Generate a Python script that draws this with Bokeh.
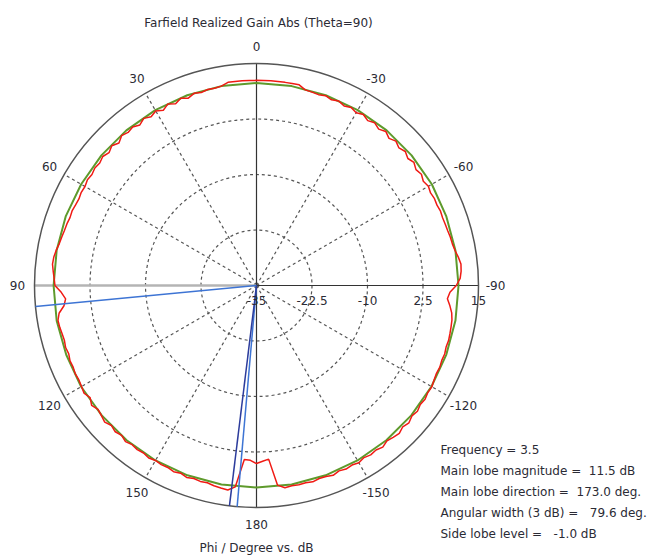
import numpy as np
from bokeh.plotting import figure
from bokeh.models import Range1d
from bokeh.core.properties import value
from bokeh.embed import file_html
from bokeh.resources import INLINE

# ---------------- data ----------------
title_text = "Farfield Realized Gain Abs (Theta=90)"
axis_text = "Phi / Degree vs. dB"

r_min_db = -35.0
r_max_db = 15.0
radial_ticks = [-35, -22.5, -10, 2.5, 15]
radial_tick_labels = ["-35", "-22.5", "-10", "2.5", "15"]

angle_ticks = [0, 30, 60, 90, 120, 150, 180, -150, -120, -90, -60, -30]
angle_tick_labels = ["0", "30", "60", "90", "120", "150", "180", "-150", "-120", "-90", "-60", "-30"]

# measured realized gain (red), phi in degrees (positive = left side)
red_phi = [0, 2, 4, 6, 8, 10, 12, 14, 16, 18, 20, 22, 24, 26, 28, 30, 32, 34, 36, 38,
           40, 42, 44, 46, 48, 50, 52, 54, 56, 58, 60, 62, 64, 66, 68, 70, 72, 74, 76, 78,
           80, 82, 84, 86, 88, 90, 92, 94, 96, 98, 100, 102, 104, 106, 108, 110, 112, 114, 116, 118,
           120, 122, 124, 126, 128, 130, 132, 134, 136, 138, 140, 142, 144, 146, 148, 150, 152, 154, 156, 158,
           160, 162, 164, 166, 168, 170, 172, 174, 176, 178, 180, -178, -176, -174, -172, -170, -168, -166, -164, -162,
           -160, -158, -156, -154, -152, -150, -148, -146, -144, -142, -140, -138, -136, -134, -132, -130, -128, -126, -124, -122,
           -120, -118, -116, -114, -112, -110, -108, -106, -104, -102, -100, -98, -96, -94, -92, -90, -88, -86, -84, -82,
           -80, -78, -76, -74, -72, -70, -68, -66, -64, -62, -60, -58, -56, -54, -52, -50, -48, -46, -44, -42,
           -40, -38, -36, -34, -32, -30, -28, -26, -24, -22, -20, -18, -16, -14, -12, -10, -8, -6, -4, -2, 0]
red_db = [11.2, 11.2, 11.2, 11.2, 11.2, 10.6, 10.4, 10.5, 10.2, 10.5, 9.9, 10.5, 9.8, 10.5, 9.7, 10.4, 9.8, 10.4, 9.7, 10.3,
          10.0, 10.4, 9.6, 10.3, 9.7, 10.2, 9.8, 10.0, 9.7, 9.9, 9.6, 9.7, 9.5, 9.6, 9.8, 9.7, 9.9, 10.0, 10.2, 10.4,
          10.8, 11.1, 11.2, 10.9, 10.6, 10.4, 9.0, 8.1, 8.6, 9.9, 10.4, 10.3, 10.1, 10.0, 10.2, 10.0, 10.3, 10.2, 10.4, 10.3,
          10.5, 10.8, 10.2, 10.9, 10.3, 10.6, 11.0, 10.4, 10.8, 10.4, 10.9, 10.5, 10.7, 10.5, 10.8, 10.5, 10.7, 10.6, 10.9, 10.6,
          11.0, 10.7, 10.9, 10.8, 11.1, 11.3, 11.5, 10.6, 4.3, 4.4, 5.1, 4.6, 4.2, 10.2, 11.0, 10.8, 10.9, 10.8, 11.0, 10.7,
          10.8, 11.1, 10.7, 11.0, 10.8, 11.1, 10.7, 11.0, 10.8, 11.2, 10.7, 11.0, 11.3, 10.8, 11.2, 10.7, 11.0, 10.6, 10.8, 10.5,
          10.6, 10.3, 10.1, 10.2, 10.0, 10.1, 9.9, 10.0, 9.9, 9.8, 9.7, 9.4, 8.8, 8.1, 8.6, 10.0, 10.9, 11.2, 11.3, 10.9,
          10.4, 10.1, 10.0, 9.8, 9.7, 9.6, 9.7, 9.5, 9.6, 9.4, 9.7, 9.3, 9.8, 9.4, 10.0, 9.5, 10.1, 9.6, 10.2, 9.6,
          10.3, 9.7, 10.3, 9.8, 10.4, 9.9, 10.4, 10.0, 10.5, 10.1, 10.5, 10.2, 10.3, 10.4, 11.2, 11.2, 11.2, 11.2, 11.2, 11.2, 11.2]

# reference curve (green)
green_phi = [0, 10, 20, 30, 40, 50, 60, 70, 80, 90, 100, 110, 120, 130, 140, 150, 160, 170, 180,
             -170, -160, -150, -140, -130, -120, -110, -100, -90, -80, -70, -60, -50, -40, -30, -20, -10, 0]
green_db = [10.6, 10.6, 10.6, 10.6, 10.6, 10.6, 10.6, 10.7, 10.7, 10.7, 10.7, 10.6, 10.6, 10.5, 10.5, 10.5, 10.5, 10.5, 10.5,
            10.5, 10.5, 10.5, 10.5, 10.5, 10.5, 10.5, 10.5, 10.5, 10.5, 10.5, 10.6, 10.6, 10.6, 10.6, 10.6, 10.6, 10.6]

main_lobe_dir = 173.0
beam_edges = [95.4, 175.0]

info_lines = ["Frequency = 3.5",
              "Main lobe magnitude =\u00a0 11.5 dB",
              "Main lobe direction =\u00a0 173.0 deg.",
              "Angular width (3 dB) =\u00a0\u00a0 79.6 deg.",
              "Side lobe level =\u00a0\u00a0 -1.0 dB"]

# ---------------- layout ----------------
R = 222.0  # outer radius in data units (1 unit = 1 px)
FONT = "DejaVu Sans"
FS = "12px"


def rad(db):
    return (np.asarray(db, dtype=float) - r_min_db) / (r_max_db - r_min_db) * R


def xy(phi_deg, r):
    a = np.deg2rad(np.asarray(phi_deg, dtype=float))
    return -r * np.sin(a), r * np.cos(a)


p = figure(width=648, height=556, output_backend="svg", toolbar_location=None,
           x_range=Range1d(-256, 392), y_range=Range1d(-271, 285),
           x_axis_location=None, y_axis_location=None, min_border=0,
           outline_line_color=None, background_fill_color="white", border_fill_color="white")
p.grid.visible = False

grid_col = "#555555"
# dashed rings
for t in radial_ticks[1:-1]:
    p.circle(x=[0], y=[0], radius=[float(rad(t))], fill_color=None,
             line_color=grid_col, line_dash="3 3", line_width=1.2)
# dashed spokes
for a in [30, 60, 120, 150, -30, -60, -120, -150]:
    ex, ey = xy(a, R)
    p.segment(x0=[0], y0=[0], x1=[float(ex)], y1=[float(ey)], line_color=grid_col,
              line_dash="3 3", line_width=1.2)
# axes lines
p.segment(x0=[-R], y0=[0], x1=[0], y1=[0], line_color="#b4b4b4", line_width=2.5)
p.segment(x0=[0], y0=[0], x1=[R], y1=[0], line_color="#333333", line_width=1.2)
p.segment(x0=[0], y0=[-R], x1=[0], y1=[R], line_color="#333333", line_width=1.2)
# outer ring
p.circle(x=[0], y=[0], radius=[R], fill_color=None, line_color="#555555", line_width=1.5)

# curves
gx, gy = xy(green_phi, rad(green_db))
p.line(gx, gy, line_color="#5e9a2c", line_width=2)
rx, ry = xy(red_phi, rad(red_db))
p.line(rx, ry, line_color="#f01a14", line_width=1.5)

# beam lines
for a in beam_edges:
    ex, ey = xy(a, R)
    p.segment(x0=[0], y0=[0], x1=[float(ex)], y1=[float(ey)], line_color="#3d74d4", line_width=1.5)
ex, ey = xy(main_lobe_dir, R)
p.segment(x0=[0], y0=[0], x1=[float(ex)], y1=[float(ey)], line_color="#2c3c9c", line_width=1.5)

txt_col = "#2b2b35"
# angle labels
lx, ly = xy(angle_ticks, np.full(len(angle_ticks), 239.0))
p.text(x=lx, y=ly, text=angle_tick_labels, text_align="center", text_baseline="middle",
       text_font=value(FONT), text_font_size=FS, text_color=txt_col)
# radial labels
p.text(x=rad(radial_ticks), y=np.full(len(radial_ticks), -15.0), text=radial_tick_labels,
       text_align="center", text_baseline="middle", text_font=value(FONT),
       text_font_size=FS, text_color=txt_col)
# title and axis label
p.text(x=[2], y=[263], text=[title_text], text_align="center", text_baseline="middle",
       text_font=value(FONT), text_font_size=FS, text_color=txt_col)
p.text(x=[0], y=[-262], text=[axis_text], text_align="center", text_baseline="middle",
       text_font=value(FONT), text_font_size=FS, text_color=txt_col)
# info block
p.text(x=np.full(len(info_lines), 184.0), y=[-164, -185, -206, -227, -248], text=info_lines,
       text_align="left", text_baseline="middle", text_font=value(FONT),
       text_font_size=FS, text_color=txt_col)

open("out.html", "w").write(file_html(p, INLINE))
